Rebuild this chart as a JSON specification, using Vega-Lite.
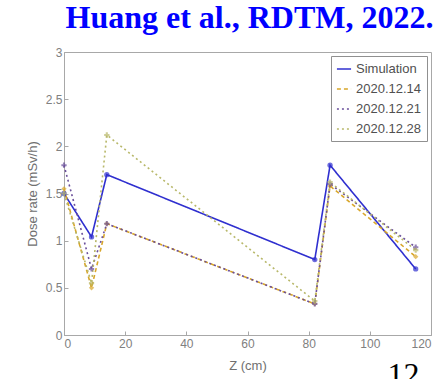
{
  "$schema": "https://vega.github.io/schema/vega-lite/v6.json",
  "autosize": {"type": "none"},
  "width": 367,
  "height": 283,
  "padding": {"left": 64, "top": 52, "right": 16, "bottom": 44},
  "background": "white",
  "view": {"stroke": "#a8a8a8", "strokeWidth": 1},
  "title": {
    "text": "Huang et al., RDTM, 2022.",
    "font": "Liberation Serif",
    "fontSize": 32,
    "fontWeight": "bold",
    "color": "#0000ff",
    "anchor": "middle",
    "dx": 2,
    "offset": 11
  },
  "data": {
    "values": [
      {"series": "Simulation", "z": 0, "dose": 1.5},
      {"series": "Simulation", "z": 9, "dose": 1.04},
      {"series": "Simulation", "z": 14, "dose": 1.7},
      {"series": "Simulation", "z": 82, "dose": 0.8},
      {"series": "Simulation", "z": 87, "dose": 1.8},
      {"series": "Simulation", "z": 115, "dose": 0.7},
      {"series": "2020.12.14", "z": 0, "dose": 1.55},
      {"series": "2020.12.14", "z": 9, "dose": 0.5},
      {"series": "2020.12.14", "z": 14, "dose": 1.18},
      {"series": "2020.12.14", "z": 82, "dose": 0.33},
      {"series": "2020.12.14", "z": 87, "dose": 1.58},
      {"series": "2020.12.14", "z": 115, "dose": 0.83},
      {"series": "2020.12.21", "z": 0, "dose": 1.8},
      {"series": "2020.12.21", "z": 9, "dose": 0.7},
      {"series": "2020.12.21", "z": 14, "dose": 1.18},
      {"series": "2020.12.21", "z": 82, "dose": 0.33},
      {"series": "2020.12.21", "z": 87, "dose": 1.6},
      {"series": "2020.12.21", "z": 115, "dose": 0.93},
      {"series": "2020.12.28", "z": 0, "dose": 1.5},
      {"series": "2020.12.28", "z": 9, "dose": 0.55},
      {"series": "2020.12.28", "z": 14, "dose": 2.12},
      {"series": "2020.12.28", "z": 82, "dose": 0.36},
      {"series": "2020.12.28", "z": 87, "dose": 1.62},
      {"series": "2020.12.28", "z": 115, "dose": 0.9}
    ]
  },
  "layer": [
    {
      "encoding": {
        "x": {
          "field": "z", "type": "quantitative",
          "scale": {"domain": [0, 120], "nice": false},
          "axis": {"title": "Z (cm)", "values": [0, 20, 40, 60, 80, 100, 120]}
        },
        "y": {
          "field": "dose", "type": "quantitative",
          "scale": {"domain": [0, 3], "nice": false},
          "axis": {"title": "Dose rate (mSv/h)", "values": [0, 0.5, 1, 1.5, 2, 2.5, 3], "format": "~g"}
        }
      },
      "layer": [
        {
          "mark": {"type": "line", "strokeWidth": 1.6},
          "encoding": {
            "color": {
              "field": "series", "type": "nominal",
              "scale": {
                "domain": ["Simulation", "2020.12.14", "2020.12.21", "2020.12.28"],
                "range": ["#2f2fcf", "#d8a62a", "#6a4f9a", "#b8b86a"]
              },
              "legend": {"title": null, "symbolType": "stroke"}
            },
            "strokeDash": {
              "field": "series", "type": "nominal",
              "scale": {
                "domain": ["Simulation", "2020.12.14", "2020.12.21", "2020.12.28"],
                "range": [[1, 0], [4, 3], [2, 3], [2, 3]]
              },
              "legend": {"title": null, "symbolType": "stroke"}
            }
          }
        },
        {
          "mark": {"type": "point", "filled": true, "size": 28},
          "encoding": {
            "color": {
              "field": "series", "type": "nominal",
              "scale": {
                "domain": ["Simulation", "2020.12.14", "2020.12.21", "2020.12.28"],
                "range": ["#2f2fcf", "#d8a62a", "#6a4f9a", "#b8b86a"]
              },
              "legend": null
            },
            "shape": {
              "field": "series", "type": "nominal",
              "scale": {
                "domain": ["Simulation", "2020.12.14", "2020.12.21", "2020.12.28"],
                "range": ["circle", "diamond", "cross", "cross"]
              },
              "legend": null
            }
          }
        }
      ],
      "resolve": {
        "scale": {"color": "independent", "shape": "independent", "strokeDash": "independent"}
      }
    },
    {
      "data": {"values": [{"page": "12", "z": 111, "dose": -0.42}]},
      "mark": {"type": "text", "font": "Liberation Serif", "fontSize": 32, "color": "#000000", "baseline": "middle", "align": "center", "clip": false},
      "encoding": {
        "x": {"field": "z", "type": "quantitative"},
        "y": {"field": "dose", "type": "quantitative"},
        "text": {"field": "page"}
      }
    }
  ],
  "config": {
    "font": "Liberation Sans",
    "axis": {
      "grid": false,
      "domainColor": "#a8a8a8",
      "tickColor": "#a8a8a8",
      "tickSize": -4,
      "labelColor": "#808080",
      "labelFontSize": 12,
      "titleColor": "#707070",
      "titleFontSize": 13,
      "titleFontWeight": "normal"
    },
    "axisX": {"labelPadding": 7, "titlePadding": 10},
    "axisY": {"labelPadding": 6, "titlePadding": 6},
    "legend": {
      "orient": "top-right",
      "offset": 4,
      "strokeColor": "#909090",
      "fillColor": "white",
      "padding": 5,
      "labelFontSize": 13,
      "labelColor": "#505050",
      "rowPadding": 5,
      "symbolType": "stroke",
      "symbolSize": 200,
      "symbolStrokeWidth": 1.6
    }
  }
}
